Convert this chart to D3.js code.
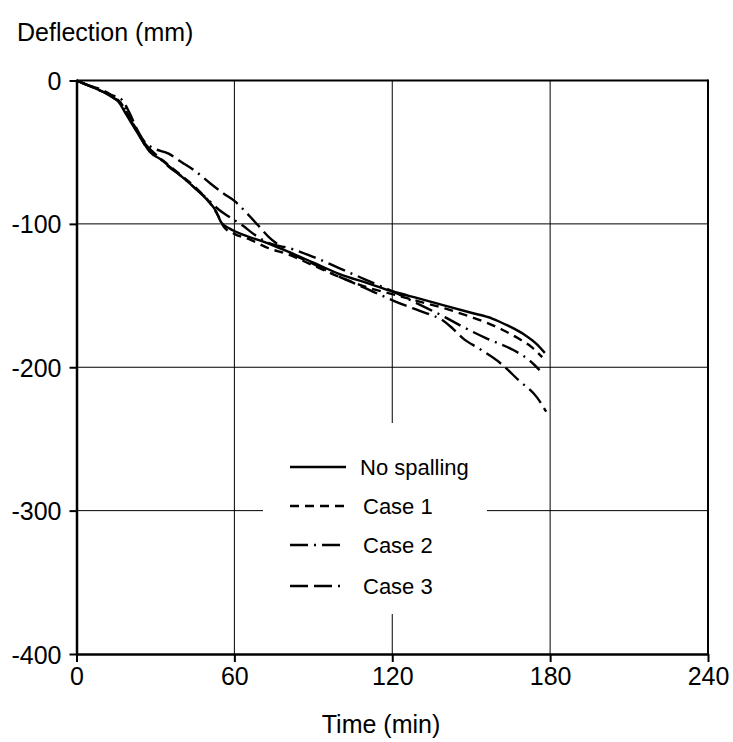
<!DOCTYPE html>
<html>
<head>
<meta charset="utf-8">
<script src="https://cdn.jsdelivr.net/npm/d3@7"></script>
<style>
  body { margin: 0; background: #fff; }
  text { font-family: "Liberation Sans", Arial, sans-serif; fill: #000; }
</style>
</head>
<body>
<div id="container"></div>
<script>
// Axis ticks
const xTicks = [0, 60, 120, 180, 240];
const yTicks = [0, -100, -200, -300, -400];

// Deflection curves, [time (min), deflection (mm)]
const noSpalling = [[0,0],[4,-3],[9,-7],[13,-11],[16,-15],[19,-24],[22,-33],[25,-42],[28,-50],[32,-55],
  [36,-61],[40,-67],[45,-75],[50,-84],[53,-91],[55,-99],[58,-103],[64,-108],[72,-113],[80,-119],
  [90,-127],[100,-135],[110,-141],[120,-147],[130,-152],[140,-157],[150,-162],[158,-166],[164,-171],
  [170,-177],[175,-184],[178,-190]];
const case1 = [[0,0],[4,-3],[9,-6],[13,-10],[17,-16],[20,-25],[23,-35],[26,-45],[29,-51],[33,-56],
  [37,-62],[41,-68],[46,-76],[51,-86],[54,-95],[56,-102],[60,-107],[66,-111],[73,-117],[80,-121],
  [90,-129],[100,-137],[110,-144],[120,-149],[130,-154],[140,-159],[150,-165],[156,-169],[162,-174],
  [168,-180],[173,-186],[177,-193]];
const case2 = [[0,0],[4,-3],[9,-7],[14,-12],[18,-18],[21,-29],[24,-39],[27,-46],[31,-53],[35,-60],
  [40,-67],[45,-75],[50,-83],[54,-90],[58,-95],[63,-101],[68,-108],[74,-114],[81,-117],[90,-123],
  [100,-131],[110,-139],[120,-147],[130,-156],[140,-165],[146,-171],[156,-180],[166,-188],[172,-195],
  [176,-202]];
const case3 = [[0,0],[4,-3],[9,-7],[13,-10],[17,-13],[20,-22],[23,-34],[26,-43],[29,-47],[35,-51],
  [40,-57],[45,-63],[51,-72],[56,-79],[60,-84],[65,-93],[69,-101],[73,-109],[77,-115],[82,-121],
  [90,-128],[100,-137],[110,-145],[116,-150],[121,-154],[128,-159],[134,-163],[139,-167],[143,-173],
  [147,-180],[153,-187],[161,-197],[168,-209],[175,-221],[178.5,-231]];

const seriesNames = ["No spalling", "Case 1", "Case 2", "Case 3"];
const seriesData = [noSpalling, case1, case2, case3];
const dashes = [null, "9,6", "18,6,2,6", "18,6,18,6,2,6"];

const width = 733, height = 742;
const plotLeft = 76.5, plotTop = 80.5, plotRight = 708, plotBottom = 654;

const svg = d3.select('#container').append('svg')
  .attr('width', width).attr('height', height);

const x = d3.scaleLinear().domain([0, 240]).range([plotLeft, plotRight]);
const y = d3.scaleLinear().domain([-400, 0]).range([plotBottom, plotTop]);

// grid lines
svg.selectAll('.vgrid').data(xTicks.slice(1, -1)).enter().append('line')
  .attr('x1', d => x(d)).attr('x2', d => x(d))
  .attr('y1', plotTop).attr('y2', plotBottom)
  .attr('stroke', '#000').attr('stroke-width', 1);
svg.selectAll('.hgrid').data(yTicks.slice(1, -1)).enter().append('line')
  .attr('x1', plotLeft).attr('x2', plotRight)
  .attr('y1', d => y(d)).attr('y2', d => y(d))
  .attr('stroke', '#000').attr('stroke-width', 1);

// curves
const line = d3.line()
  .x(d => x(d[0])).y(d => y(d[1]))
  .curve(d3.curveMonotoneX);

svg.selectAll('.curve').data(seriesData).enter().append('path')
  .attr('d', line)
  .attr('fill', 'none')
  .attr('stroke', '#000')
  .attr('stroke-width', 2.4)
  .attr('stroke-dasharray', (d, i) => dashes[i]);

// frame
svg.append('line').attr('x1', plotLeft).attr('x2', plotRight).attr('y1', plotTop).attr('y2', plotTop)
  .attr('stroke', '#000').attr('stroke-width', 2);
svg.append('line').attr('x1', plotRight).attr('x2', plotRight).attr('y1', plotTop - 1).attr('y2', plotBottom)
  .attr('stroke', '#000').attr('stroke-width', 2);

// axes (plain hyphen for negatives, like the original)
const fmt = d => String(d);
const xAxis = svg.append('g').attr('transform', `translate(0,${plotBottom})`)
  .call(d3.axisBottom(x).tickValues(xTicks).tickFormat(fmt).tickSize(8).tickSizeOuter(0).tickPadding(5));
const yAxis = svg.append('g').attr('transform', `translate(${plotLeft},0)`)
  .call(d3.axisLeft(y).tickValues(yTicks).tickFormat(fmt).tickSize(7).tickSizeOuter(0).tickPadding(8));

[xAxis, yAxis].forEach(g => {
  g.select('.domain').attr('stroke', '#000').attr('stroke-width', 2.5);
  g.selectAll('.tick line').attr('stroke', '#000').attr('stroke-width', 2);
  g.selectAll('.tick text').style('font-size', '25px').attr('fill', '#000');
});
yAxis.selectAll('.tick text').attr('dy', '0.36em');

// axis titles
svg.append('text').attr('x', 17).attr('y', 41).style('font-size', '25px').text('Deflection (mm)');
svg.append('text').attr('x', 381).attr('y', 733).attr('text-anchor', 'middle')
  .style('font-size', '25px').text('Time (min)');

// legend
const legend = svg.append('g');
legend.append('rect').attr('x', 263).attr('y', 423).attr('width', 224).attr('height', 191)
  .attr('fill', '#fff');
const rows = [467, 506, 545, 586];
seriesNames.forEach((name, i) => {
  legend.append('line')
    .attr('x1', 290).attr('x2', 346).attr('y1', rows[i]).attr('y2', rows[i])
    .attr('stroke', '#000').attr('stroke-width', 2.4)
    .attr('stroke-dasharray', dashes[i]);
  legend.append('text')
    .attr('x', i === 0 ? 360 : 363).attr('y', rows[i]).attr('dy', '0.36em')
    .style('font-size', '22px').text(name);
});
</script>
</body>
</html>
